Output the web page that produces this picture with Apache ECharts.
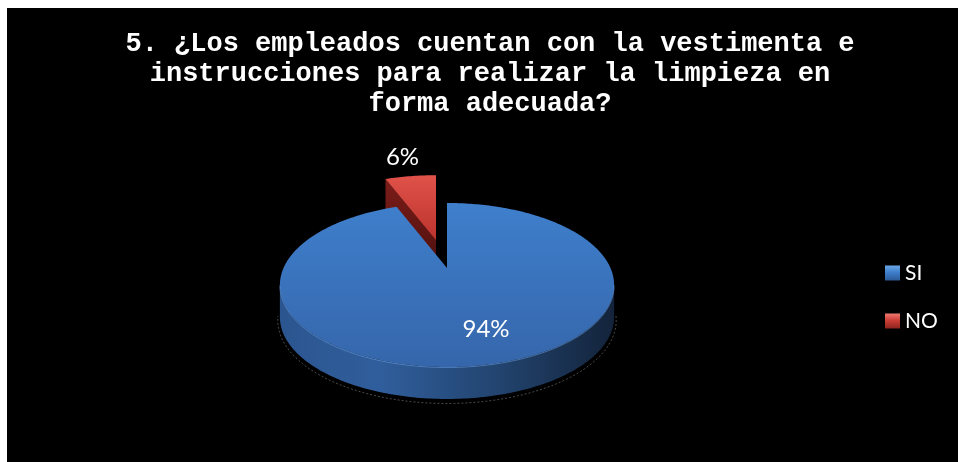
<!DOCTYPE html>
<html>
<head>
<meta charset="utf-8">
<script src="https://cdn.jsdelivr.net/npm/echarts@6/dist/echarts.min.js"></script>
<style>
  html, body { margin: 0; padding: 0; background: #fff; }
  #chart { width: 958px; height: 462px; }
</style>
</head>
<body>
<div id="chart"></div>
<script>
// Survey answers and their shares (percent)
const categories = ['SI', 'NO'];
const shares = [94, 6];
const titleText = '5. ¿Los empleados cuentan con la vestimenta e\ninstrucciones para realizar la limpieza en\nforma adecuada?';

// Tilted pie geometry (screen pixels) with a mild perspective
const PIE = { cx: 447, cy: 268, rx: 163.5, ry: 78.5, persp: -0.207, depth: 32 };
// pulled-out distance of a slice, as a fraction of the radii
const EXPLODE = { SI: 0, NO: 0.36 };
const LABEL_POS = { SI: { r: 0.7, dx: 14, dy: -2 }, NO: { r: 1.0, dx: -8, dy: -19 } };
const FILL = {
  SI: {
    top: ['#3f7fcc', '#3566ab'],
    wall: [[0, '#2b558f'], [0.3, '#305e9c'], [0.65, '#22446f'], [1, '#13233a']],
    face: ['#1f3d66', '#16304f'],
    legend: ['#6aa6e6', '#3f7fcc', '#2b5a97']
  },
  NO: {
    top: ['#e0524a', '#bb332d'],
    wall: [[0, '#8a2420'], [1, '#4a100e']],
    face: ['#7c1d19', '#4a0f0d'],
    legend: ['#f07a72', '#cc3f37', '#8f2420']
  }
};

// Project a point of the unit disc (u to the right, v toward the viewer)
function proj(u, v, drop) {
  const w = 1 + PIE.persp * v;
  return [PIE.cx + PIE.rx * u / w, PIE.cy + PIE.ry * v / w + (drop || 0)];
}
// theta runs clockwise from 12 o'clock
function rimPoint(theta, drop, scale) {
  const s = scale || 1;
  return proj(Math.sin(theta) * s, -Math.cos(theta) * s, drop);
}
function arc(t0, t1, drop, scale) {
  const n = Math.max(2, Math.ceil(Math.abs(t1 - t0) / (Math.PI / 180)));
  const pts = [];
  for (let k = 0; k <= n; k++) pts.push(rimPoint(t0 + (t1 - t0) * k / n, drop, scale));
  return pts;
}
function signedArea(pts) {
  let s = 0;
  for (let i = 0; i < pts.length; i++) {
    const a = pts[i], b = pts[(i + 1) % pts.length];
    s += a[0] * b[1] - b[0] * a[1];
  }
  return s / 2;
}
function vGrad(c) {
  return new echarts.graphic.LinearGradient(0, 0, 0, 1, [{ offset: 0, color: c[0] }, { offset: 1, color: c[1] }]);
}

// Outer wall is visible between the left and right silhouette points
const WALL_FROM = Math.acos(PIE.persp);
const WALL_TO = 2 * Math.PI - WALL_FROM;

function renderSlice(idx) {
  const key = categories[idx];
  return function (params, api) {
    const total = shares.reduce((s, x) => s + x, 0);
    const before = shares.slice(0, idx).reduce((s, x) => s + x, 0);
    const t0 = before / total * 2 * Math.PI;
    const t1 = t0 + api.value(0) / total * 2 * Math.PI;
    const mid = (t0 + t1) / 2;
    const e = EXPLODE[key] || 0;
    const c = FILL[key];
    const D = PIE.depth;
    const center = proj(0, 0, 0);
    const centerLow = proj(0, 0, D);
    const children = [];

    // outer wall and the faint shadow rim under it
    const a = Math.max(t0, WALL_FROM), b = Math.min(t1, WALL_TO);
    if (b > a) {
      children.push({
        type: 'polygon',
        shape: { points: arc(a, b, 0).concat(arc(b, a, D)) },
        style: {
          fill: new echarts.graphic.LinearGradient(PIE.cx - PIE.rx * 1.03, 0, PIE.cx + PIE.rx * 1.03, 0,
            c.wall.map(s => ({ offset: s[0], color: s[1] })), true)
        },
        z2: 1
      });
      children.push({
        type: 'polyline',
        shape: { points: arc(a - 0.05, b + 0.05, D + 3, 1.012) },
        style: { stroke: 'rgba(170,170,170,0.55)', lineWidth: 0.8, lineDash: [2, 2], fill: null },
        z2: 0
      });
      children.push({
        type: 'polyline',
        shape: { points: arc(a, b, 0.5) },
        style: { stroke: 'rgba(110,160,225,0.55)', lineWidth: 1, fill: null },
        z2: 4
      });
    }

    // radial cut faces, only those turned toward the viewer
    [[t0, -1], [t1, 1]].forEach(f => {
      const pts = [center, rimPoint(f[0], 0), rimPoint(f[0], D), centerLow];
      if (signedArea(pts) * f[1] > 0) {
        children.push({ type: 'polygon', shape: { points: pts }, style: { fill: vGrad(c.face) }, z2: 2 });
      }
    });

    // top face
    children.push({
      type: 'polygon',
      shape: { points: [center].concat(arc(t0, t1, 0)) },
      style: { fill: vGrad(c.top) },
      z2: 3
    });

    // percentage label
    const lp = LABEL_POS[key];
    const p = proj(Math.sin(mid) * lp.r, -Math.cos(mid) * lp.r, 0);
    children.push({
      type: 'text',
      z2: 10,
      style: {
        x: p[0] + lp.dx, y: p[1] + lp.dy,
        text: Math.round(api.value(0) / total * 100) + '%',
        fill: '#ffffff', fontFamily: 'Lato', fontSize: 24,
        align: 'center', verticalAlign: 'middle'
      }
    });

    // pull the slice out along its middle direction
    return {
      type: 'group',
      x: Math.sin(mid) * e * PIE.rx,
      y: -Math.cos(mid) * e * PIE.ry,
      children: children
    };
  };
}

function legendGrad(c) {
  return new echarts.graphic.LinearGradient(0, 0, 0, 1, [
    { offset: 0, color: c[0] }, { offset: 0.45, color: c[1] }, { offset: 1, color: c[2] }
  ]);
}

const chart = echarts.init(document.getElementById('chart'), null, { renderer: 'canvas' });
chart.setOption({
  backgroundColor: '#ffffff',
  animation: false,
  graphic: [
    { type: 'rect', silent: true, z: -1, shape: { x: 7, y: 8, width: 951, height: 454 }, style: { fill: '#000000' } },
    {
      type: 'text', silent: true, z: 5, x: 490, y: 29,
      style: {
        text: titleText, fill: '#ffffff', fontFamily: 'Liberation Mono', fontWeight: 'bold',
        fontSize: 27, lineHeight: 30, align: 'center', verticalAlign: 'top'
      }
    }
  ],
  legend: {
    orient: 'vertical',
    left: 880,
    top: 256,
    itemWidth: 15,
    itemHeight: 15,
    itemGap: 24,
    itemTextGap: 6,
    icon: 'rect',
    selectedMode: false,
    textStyle: { color: '#ffffff', fontFamily: 'Lato', fontSize: 21, lineHeight: 24 },
    data: categories.map(k => ({ name: k, itemStyle: { color: legendGrad(FILL[k].legend) } }))
  },
  series: [
    // the exploded slice sits behind the main slice, so it is drawn first
    { type: 'custom', name: 'NO', coordinateSystem: 'none', z: 2, silent: true,
      itemStyle: { color: FILL.NO.top[0] }, data: [shares[1]], renderItem: renderSlice(1) },
    { type: 'custom', name: 'SI', coordinateSystem: 'none', z: 3, silent: true,
      itemStyle: { color: FILL.SI.top[0] }, data: [shares[0]], renderItem: renderSlice(0) }
  ]
});
</script>
</body>
</html>
